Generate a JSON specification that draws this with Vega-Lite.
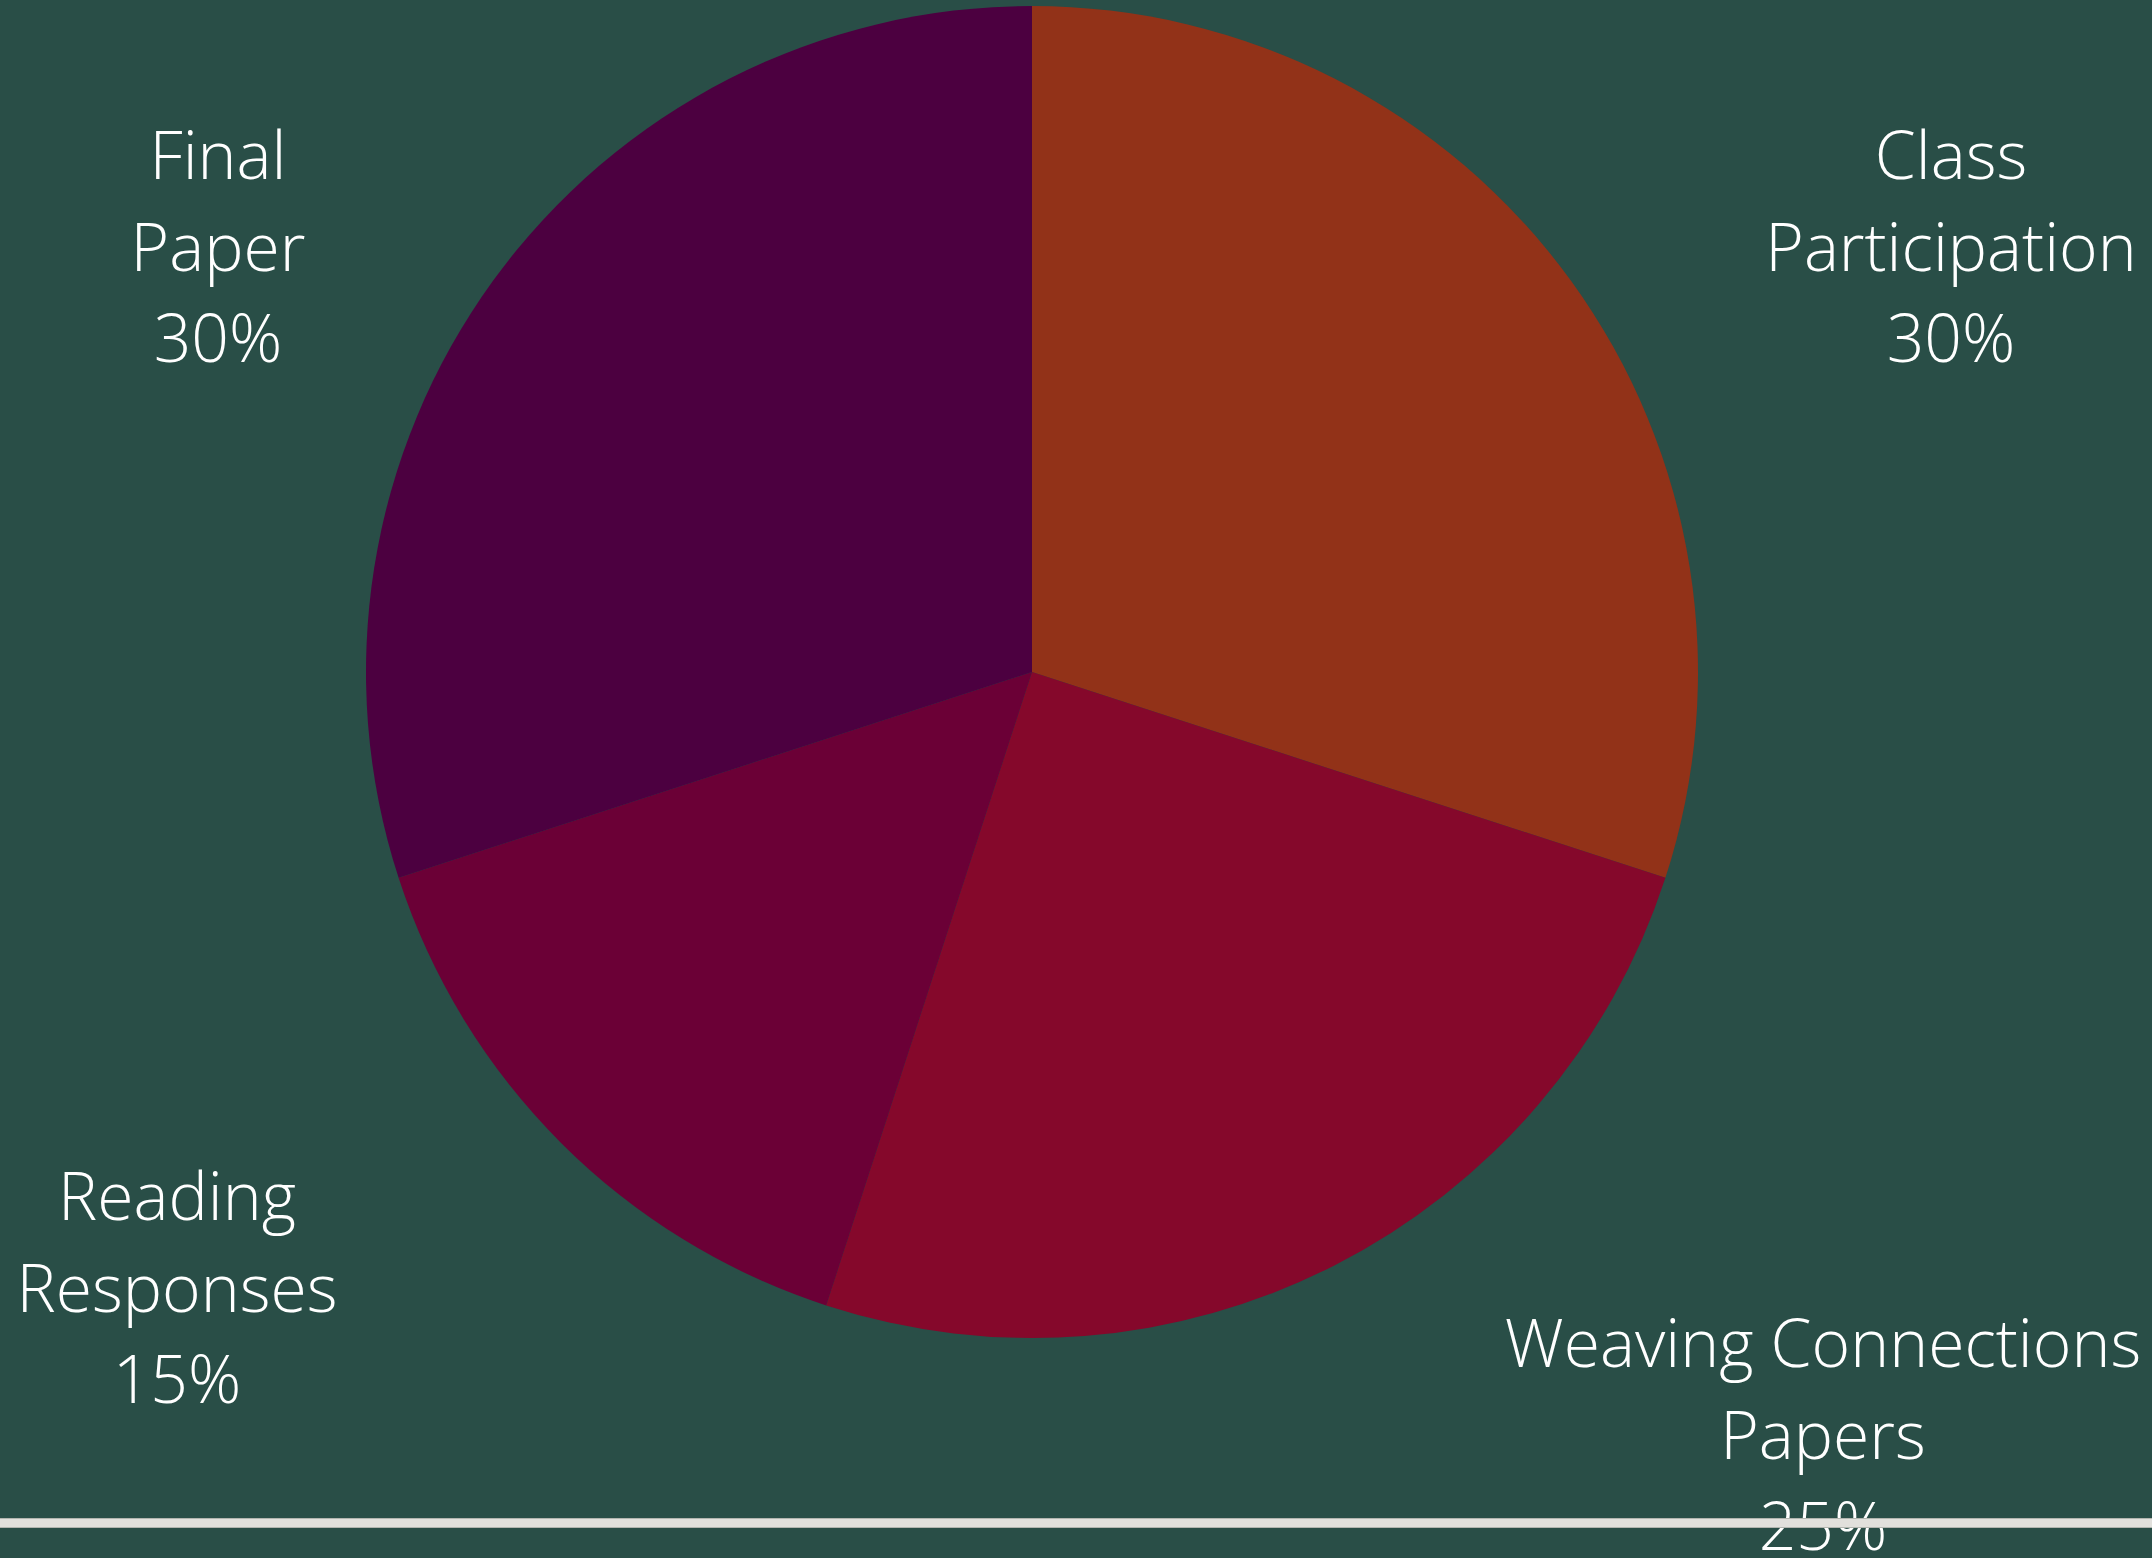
{
  "$schema": "https://vega.github.io/schema/vega-lite/v6.json",
  "width": 2064,
  "height": 1344,
  "autosize": {"type": "none"},
  "padding": {"left": 0, "top": 0, "right": 88, "bottom": 214},
  "background": "#294e47",
  "config": {"view": {"stroke": null}},
  "data": {"values": [
    {"Component": "Class Participation", "Percent": 30},
    {"Component": "Weaving Connections Papers", "Percent": 25},
    {"Component": "Reading Responses", "Percent": 15},
    {"Component": "Final Paper", "Percent": 30}
  ]},
  "transform": [{"window": [{"op": "row_number", "as": "idx"}]}],
  "layer": [
    {
      "mark": {"type": "arc", "outerRadius": 666},
      "encoding": {
        "theta": {"field": "Percent", "type": "quantitative", "stack": true},
        "order": {"field": "idx", "type": "quantitative"},
        "color": {
          "field": "Component", "type": "nominal", "legend": null,
          "scale": {
            "domain": ["Class Participation", "Weaving Connections Papers", "Reading Responses", "Final Paper"],
            "range": ["#923218", "#85082b", "#6b0036", "#4c0040"]
          }
        }
      }
    },
    {
      "transform": [
        {"stack": "Percent", "groupby": [], "sort": [{"field": "idx", "order": "ascending"}], "as": ["s0", "s1"]},
        {"calculate": "(datum.s0 + datum.s1) / 2", "as": "mid"},
        {"calculate": "(datum.Component == 'Weaving Connections Papers' ? 'Weaving Connections|Papers' : replace(datum.Component, ' ', '|')) + '|' + datum.Percent + '%'", "as": "label"}
      ],
      "mark": {"type": "text", "font": "Open Sans", "fontWeight": 300, "fontSize": 66, "lineHeight": 91.5, "lineBreak": "|", "align": "center", "baseline": "alphabetic", "color": "#ffffff"},
      "encoding": {
        "x": {"field": "mid", "type": "quantitative", "axis": null, "scale": {"domain": [15, 42.5, 62.5, 85], "range": [1951, 1823, 177, 218], "zero": false, "nice": false}},
        "y": {"field": "mid", "type": "quantitative", "axis": null, "scale": {"domain": [15, 42.5, 62.5, 85], "range": [179, 1367, 1220, 179], "zero": false, "nice": false}},
        "text": {"field": "label"}
      }
    },
    {
      "data": {"values": [{}]},
      "mark": {"type": "rule", "strokeWidth": 10, "color": "#b2b5af"},
      "encoding": {"x": {"value": 0}, "x2": {"value": 2152}, "y": {"value": 1523}}
    },
    {
      "data": {"values": [{}]},
      "mark": {"type": "rule", "strokeWidth": 8, "color": "#e1e0dc"},
      "encoding": {"x": {"value": 0}, "x2": {"value": 2152}, "y": {"value": 1523}}
    }
  ]
}
